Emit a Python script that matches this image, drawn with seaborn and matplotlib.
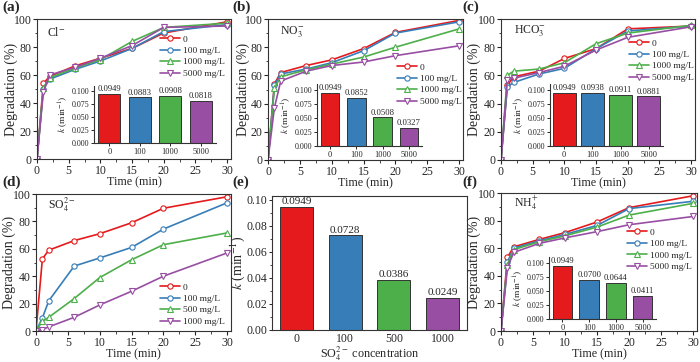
import numpy as np
import pandas as pd
import matplotlib
matplotlib.use("Agg")
import matplotlib.pyplot as plt
from matplotlib.ticker import MultipleLocator, FormatStrFormatter
import seaborn as sns

sns.set_theme(style="ticks")
plt.rcParams['font.family'] = ['Liberation Serif', 'DejaVu Serif']
plt.rcParams['mathtext.fontset'] = 'stix'
plt.rcParams['axes.linewidth'] = 0.8

# ---------------- data ----------------
time = [0, 1, 2, 6, 10, 15, 20, 30]

cl_0 = [0, 54, 59, 66.5, 72, 79, 90, 98]
cl_100 = [0, 50, 57, 64, 70, 79, 91, 96]
cl_1000 = [0, 51, 58, 65, 71, 84, 94, 97]
cl_5000 = [0, 48, 60, 65.5, 72, 81, 94, 95]
cl_k = [0.0949, 0.0883, 0.0908, 0.0818]

no3_0 = [0, 54, 62, 67, 71, 79, 90.5, 99]
no3_100 = [0, 53, 61, 64.5, 69, 77.5, 90, 98]
no3_1000 = [0, 51, 59, 64, 68, 73, 80, 93]
no3_5000 = [0, 37, 56, 63, 67, 69.5, 74, 81]
no3_k = [0.0949, 0.0852, 0.0508, 0.0327]

hco3_0 = [0, 53, 59, 63, 72, 79, 93, 95]
hco3_100 = [0, 52, 55, 61, 65, 79, 91.5, 95]
hco3_1000 = [0, 60, 63, 64.5, 69, 82.5, 90, 95.5]
hco3_5000 = [0, 57, 58, 62, 66.5, 78, 87, 94.5]
hco3_k = [0.0949, 0.0938, 0.0911, 0.0881]

so4_0 = [0, 52.6, 59, 66, 71, 79, 89.6, 98]
so4_100 = [0, 9.5, 22, 47.4, 53.3, 61, 74.4, 93.6]
so4_500 = [0, 7, 10, 23.7, 39, 52, 63, 71.6]
so4_1000 = [0, 1, 3, 10, 19, 29, 40, 57]
so4_k = [0.0949, 0.0728, 0.0386, 0.0249]

nh4_0 = [0, 53.4, 61, 66.4, 71.3, 79, 89.4, 98]
nh4_100 = [0, 50, 60, 65.4, 70, 76.5, 88.7, 94]
nh4_1000 = [0, 48, 59, 64.7, 69, 75.3, 84, 92.5]
nh4_5000 = [0, 46, 57, 63.5, 67.5, 72, 77, 83]
nh4_k = [0.0949, 0.0700, 0.0644, 0.0411]

conc_labels = ['0', '100 mg/L', '1000 mg/L', '5000 mg/L']
conc_labels_so4 = ['0', '100 mg/L', '500 mg/L', '1000 mg/L']
bar_cats = ['0', '100', '1000', '5000']
bar_cats_so4 = ['0', '100', '500', '1000']

colors = ['#E41A1C', '#377EB8', '#4DAF4A', '#984EA3']
markers = ['o', 'o', '^', 'v']

W, H = 700, 362
fig = plt.figure(figsize=(W / 100, H / 100), dpi=100)


def px_axes(x0, y0, x1, y1):
    return fig.add_axes([x0 / W, 1 - y1 / H, (x1 - x0) / W, (y1 - y0) / H])


def line_panel(box, series, labels, ion, ion_pos, leg_anchor, panel, panel_pos, ylab_x):
    ax = px_axes(*box)
    for vals, lab, c, m in zip(series, labels, colors, markers):
        sns.lineplot(x=time, y=vals, ax=ax, color=c, marker=m, markersize=3.8,
                     markerfacecolor='white', markeredgecolor=c, markeredgewidth=0.8,
                     linewidth=1.2, label=lab)
    ax.set_xlim(0, 30.6)
    ax.set_ylim(0, 100)
    ax.xaxis.set_major_locator(MultipleLocator(5))
    ax.xaxis.set_minor_locator(MultipleLocator(2.5))
    ax.yaxis.set_major_locator(MultipleLocator(20))
    ax.yaxis.set_minor_locator(MultipleLocator(10))
    ax.tick_params(which='major', length=3, width=0.8, labelsize=8.5, pad=1, direction='out')
    ax.tick_params(which='minor', length=1.8, width=0.6, direction='out')
    ax.set_xlabel('Time (min)', fontsize=8.7, labelpad=0)
    ax.set_ylabel('Degradation (%)', fontsize=10)
    ax.yaxis.set_label_coords(ylab_x, 0.5)
    for s in ax.spines.values():
        s.set_color('#333333')
    ax.text(ion_pos[0], ion_pos[1], ion, transform=ax.transAxes, fontsize=8.5,
            ha='left', va='center')
    ax.legend(loc='upper left', bbox_to_anchor=(leg_anchor[0] / W, 1 - leg_anchor[1] / H),
              bbox_transform=fig.transFigure, frameon=False, fontsize=6.8,
              borderpad=0, borderaxespad=0, handlelength=2.1, handletextpad=0.3,
              labelspacing=0.3, numpoints=1)
    fig.text(panel_pos[0] / W, 1 - panel_pos[1] / H, panel, fontsize=11,
             fontweight='bold', ha='left', va='top')
    return ax


def bar_panel(ax, cats, kvals, width, fs_tick, fs_lab):
    df = pd.DataFrame({'c': cats, 'k': kvals})
    sns.barplot(data=df, x='c', y='k', hue='c', palette=colors, legend=False,
                ax=ax, width=width, edgecolor='#333333', linewidth=0.7, saturation=1)
    for cont, v in zip(ax.containers, kvals):
        ax.bar_label(cont, labels=[f'{v:.4f}'], fontsize=fs_lab, padding=0.5)
    ax.set_xlabel('')
    ax.tick_params(axis='both', labelsize=fs_tick, length=2.5, width=0.7, pad=1)
    ax.patch.set_alpha(0)


def inset(box, cats, kvals, width):
    ax = px_axes(*box)
    bar_panel(ax, cats, kvals, width, 6, 6.2)
    ax.tick_params(axis='y', labelsize=5.8)
    ax.set_xlim(-0.5, 3.5)
    ax.set_ylim(0, 0.11)
    ax.set_yticks(np.arange(0, 0.101, 0.025))
    ax.yaxis.set_major_formatter(FormatStrFormatter('%.3f'))
    ax.spines['top'].set_visible(False)
    ax.spines['right'].set_visible(False)
    for s in ax.spines.values():
        s.set_color('#333333')
    ax.set_ylabel('$k$ (min$^{-1}$)', fontsize=6.8, labelpad=1)
    return ax


# (a) Cl-
line_panel((37, 19, 231, 159), [cl_0, cl_100, cl_1000, cl_5000], conc_labels,
           'Cl$^{-}$', (0.05, 0.9), (160, 35), '(a)', (2, 1), -0.098)
inset((94, 86, 216, 143), bar_cats, cl_k, 0.73)

# (b) NO3-
line_panel((268, 19, 463, 160), [no3_0, no3_100, no3_1000, no3_5000], conc_labels,
           'NO$_3^{-}$', (0.06, 0.91), (397, 63), '(b)', (232, 1), -0.092)
inset((317, 84, 422, 146), bar_cats, no3_k, 0.7)

# (c) HCO3-
line_panel((501, 19, 695, 160), [hco3_0, hco3_100, hco3_1000, hco3_5000], conc_labels,
           'HCO$_3^{-}$', (0.067, 0.92), (629, 39), '(c)', (462, 1), -0.103)
inset((550, 84, 663, 146), bar_cats, hco3_k, 0.82)

# (d) SO4 2-
line_panel((36, 194, 231, 331), [so4_0, so4_100, so4_500, so4_1000], conc_labels_so4,
           'SO$_4^{2-}$', (0.06, 0.92), (160, 283), '(d)', (2, 176), -0.103)

# (e) k vs SO4 concentration
axe = px_axes(272, 196, 467, 330)
bar_panel(axe, bar_cats_so4, so4_k, 0.68, 8.5, 8)
axe.set_xlim(-0.5, 3.5)
axe.set_ylim(0, 0.103)
axe.set_yticks(np.arange(0, 0.101, 0.02))
axe.yaxis.set_major_formatter(FormatStrFormatter('%.2f'))
axe.yaxis.set_minor_locator(MultipleLocator(0.01))
axe.tick_params(which='minor', length=1.8, width=0.6)
axe.tick_params(axis='x', length=0, pad=2)
for s in axe.spines.values():
    s.set_color('#333333')
axe.set_ylabel('$k$ (min$^{-1}$)', fontsize=10)
axe.yaxis.set_label_coords(-0.128, 0.5)
axe.set_xlabel('SO$_4^{2-}$ concentration', fontsize=8.7, labelpad=0)
fig.text(232 / W, 1 - 176 / H, '(e)', fontsize=11, fontweight='bold', ha='left', va='top')

# (f) NH4+
line_panel((501, 193, 697, 331), [nh4_0, nh4_100, nh4_1000, nh4_5000], conc_labels,
           'NH$_4^{+}$', (0.065, 0.93), (627, 228), '(f)', (462, 176), -0.102)
inset((549, 257, 656, 319), bar_cats, nh4_k, 0.73)

fig.savefig('out.png', dpi=100)
